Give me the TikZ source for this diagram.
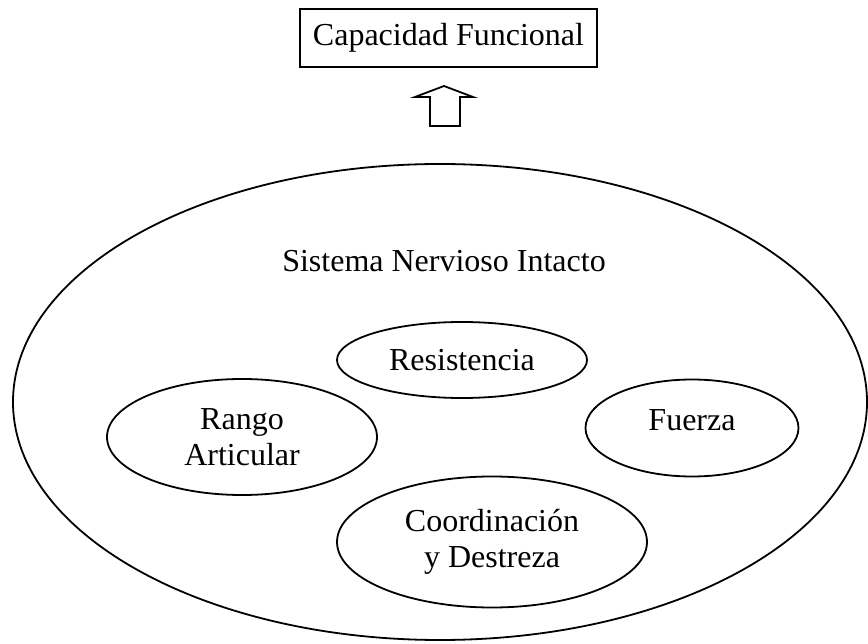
\documentclass[tikz,border=0pt]{standalone}
\usepackage{fontspec}
\setmainfont{Liberation Serif}
\usetikzlibrary{shapes.geometric}

\begin{document}
\begin{tikzpicture}
[
x=1pt, y=-1pt,
every node/.style={font=\fontsize{32}{36}\selectfont, align=center},
oval/.style={ellipse, draw, line width=1.8pt, inner sep=0pt},
caja/.style={rectangle, draw, line width=1.8pt, minimum width=297pt, minimum height=58pt}
]
\useasboundingbox (0,0) rectangle (868,644);

\node[caja] (cap) at (448.5,38) {Capacidad Funcional};

% flecha hueca
\draw[line width=1.8pt, line join=miter] (444,86) -- (473,97) -- (460,97) -- (460,126)
  -- (430,126) -- (430,97) -- (415,97) -- cycle;

\node[oval, minimum width=854pt, minimum height=476pt] (sni) at (440,402) {};
\node (titulo) at (444,261) {Sistema Nervioso Intacto};

\node[oval, minimum width=250pt, minimum height=76pt] (res) at (462,360) {Resistencia};
\node[oval, minimum width=270pt, minimum height=116pt] (rango) at (242,437) {Rango\\Articular};
\node[oval, minimum width=213pt, minimum height=97pt] (fuerza) at (692,428) {};
\node (fuerzatxt) at (692,420) {Fuerza};
\node[oval, minimum width=310pt, minimum height=131pt] (coord) at (492,542) {Coordinación\\y Destreza};
\end{tikzpicture}
\end{document}
